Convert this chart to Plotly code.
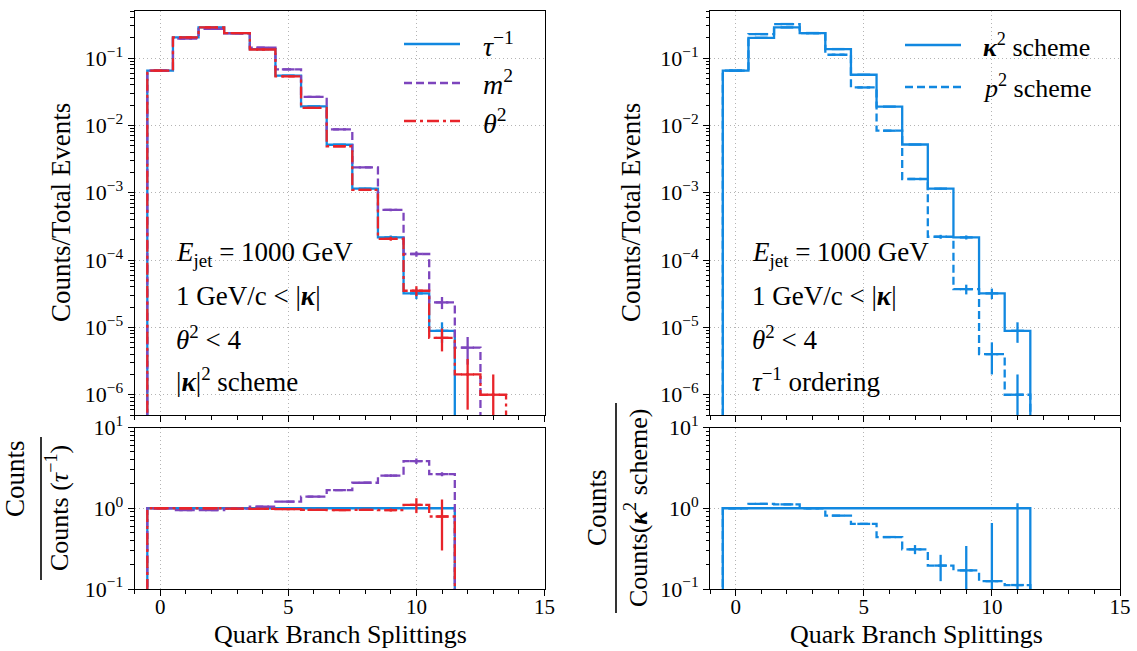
import plotly.graph_objects as go

W, H = 1137, 651

# ---------------- data ----------------
bins_tau = list(range(12))          # bin centres for tau^-1 ordering
bins_m2 = list(range(13))
bins_th2 = list(range(14))
tau_inv = [0.065, 0.203, 0.285, 0.235, 0.136, 0.055, 0.0191, 0.00516, 0.00115, 2.17e-4, 3.2e-5, 8.9e-6]
tau_err = [2.5e-4, 4.5e-4, 5.3e-4, 4.8e-4, 3.7e-4, 2.3e-4, 1.4e-4, 7.2e-5, 3.4e-5, 1.5e-5, 5.7e-6, 3.0e-6]
m2 = [0.065, 0.194, 0.271, 0.233, 0.143, 0.068, 0.0266, 0.0087, 0.00238, 5.55e-4, 1.23e-4, 2.35e-5, 5.0e-6]
m2_err = [2.5e-4, 4.4e-4, 5.2e-4, 4.8e-4, 3.8e-4, 2.6e-4, 1.6e-4, 9.3e-5, 4.9e-5, 2.4e-5, 1.1e-5, 4.8e-6, 2.2e-6]
theta2 = [0.065, 0.203, 0.285, 0.234, 0.134, 0.0535, 0.0182, 0.0049, 0.0011, 2.07e-4, 3.5e-5, 7.0e-6, 2.0e-6, 1.0e-6]
theta2_err = [2.5e-4, 4.5e-4, 5.3e-4, 4.8e-4, 3.7e-4, 2.3e-4, 1.3e-4, 7.0e-5, 3.3e-5, 1.4e-5, 5.9e-6, 2.6e-6, 1.4e-6, 1.0e-6]

ratio_bins_left = list(range(12))
ratio_tau = [1.0] * 12
ratio_m2 = [1.0, 0.95, 0.95, 0.99, 1.05, 1.21, 1.39, 1.68, 2.07, 2.53, 3.84, 2.64]
ratio_m2_err = [0.005, 0.005, 0.005, 0.005, 0.005, 0.01, 0.01, 0.02, 0.05, 0.1, 0.3, 0.15]
ratio_th2 = [1.0, 1.0, 1.0, 0.99, 0.985, 0.975, 0.955, 0.95, 0.955, 0.95, 1.1, 0.79]
ratio_th2_err = [0.005, 0.005, 0.005, 0.005, 0.005, 0.005, 0.01, 0.015, 0.02, 0.04, 0.23, 0.49]

bins_k = list(range(12))
kappa2 = [0.065, 0.200, 0.285, 0.235, 0.136, 0.0565, 0.019, 0.0052, 0.00115, 2.17e-4, 3.2e-5, 8.9e-6]
kappa2_err = [2.5e-4, 4.5e-4, 5.3e-4, 4.8e-4, 3.7e-4, 2.4e-4, 1.4e-4, 7.2e-5, 3.4e-5, 1.5e-5, 5.7e-6, 3.0e-6]
p2 = [0.065, 0.227, 0.320, 0.235, 0.112, 0.0366, 0.00834, 0.0016, 2.22e-4, 3.7e-5, 4.0e-6, 1.0e-6]
p2_err = [2.5e-4, 4.8e-4, 5.7e-4, 4.8e-4, 3.3e-4, 1.9e-4, 9.1e-5, 4.0e-5, 1.5e-5, 6.1e-6, 2.0e-6, 1.0e-6]
ratio_k = [1.0] * 12
ratio_p2 = [1.0, 1.13, 1.12, 1.0, 0.81, 0.64, 0.44, 0.31, 0.195, 0.17, 0.125, 0.112]
ratio_p2_err = [0.005, 0.005, 0.005, 0.005, 0.005, 0.01, 0.01, 0.04, 0.07, 0.17, 0.53, 1.04]

ytick_top_vals = [1e-6, 1e-5, 1e-4, 1e-3, 1e-2, 1e-1]
ytick_top_text = ["10<sup>−6</sup>", "10<sup>−5</sup>", "10<sup>−4</sup>", "10<sup>−3</sup>", "10<sup>−2</sup>", "10<sup>−1</sup>"]
ytick_bot_vals = [0.1, 1, 10]
ytick_bot_text = ["10<sup>−1</sup>", "10<sup>0</sup>", "10<sup>1</sup>"]
xtick_vals = [0, 5, 10, 15]

# ---------------- styles ----------------
BLUE = "#1188e0"
PURPLE = "#7d45bd"
RED = "#e8242a"
LW = 2.3
DASH = "8px,4px"
DASHDOT = "12px,4px,3px,4px"
FONT = "Liberation Serif"
FLOOR = 1e-9
GRID = dict(showgrid=True, gridcolor="#b4b4b4", griddash="1px,3px", gridwidth=1)

fig = go.Figure()


def step(centers, vals, color, dash, xa, ya):
    edges = [c - 0.5 for c in centers] + [centers[-1] + 0.5]
    xs = [edges[0]] + edges[:-1] + [edges[-1], edges[-1]]
    ys = [FLOOR] + list(vals) + [vals[-1], FLOOR]
    fig.add_trace(go.Scatter(x=xs, y=ys, mode="lines", line_shape="hv",
                             line=dict(color=color, width=LW, dash=dash),
                             xaxis=xa, yaxis=ya, showlegend=False, hoverinfo="skip"))


def errs(centers, vals, err, color, xa, ya):
    minus = [min(e, 0.999 * v) for e, v in zip(err, vals)]
    fig.add_trace(go.Scatter(x=centers, y=vals, mode="markers",
                             marker=dict(size=1, color="rgba(0,0,0,0)"),
                             error_y=dict(type="data", array=err, arrayminus=minus, symmetric=False,
                                          color=color, thickness=LW, width=0),
                             error_x=dict(type="constant", value=0.25, color=color, thickness=LW, width=0),
                             xaxis=xa, yaxis=ya, showlegend=False, hoverinfo="skip"))


# left top
for c, v, e, col, d in [(bins_tau, tau_inv, tau_err, BLUE, "solid"),
                        (bins_m2, m2, m2_err, PURPLE, DASH),
                        (bins_th2, theta2, theta2_err, RED, DASHDOT)]:
    step(c, v, col, d, "x", "y")
    errs(c, v, e, col, "x", "y")
# left bottom
step(ratio_bins_left, ratio_tau, BLUE, "solid", "x2", "y2")
step(ratio_bins_left, ratio_m2, PURPLE, DASH, "x2", "y2")
errs(ratio_bins_left, ratio_m2, ratio_m2_err, PURPLE, "x2", "y2")
step(ratio_bins_left, ratio_th2, RED, DASHDOT, "x2", "y2")
errs(ratio_bins_left, ratio_th2, ratio_th2_err, RED, "x2", "y2")
# right top
step(bins_k, kappa2, BLUE, "solid", "x3", "y3")
errs(bins_k, kappa2, kappa2_err, BLUE, "x3", "y3")
step(bins_k, p2, BLUE, DASH, "x3", "y3")
errs(bins_k, p2, p2_err, BLUE, "x3", "y3")
# right bottom
step(bins_k, ratio_k, BLUE, "solid", "x4", "y4")
step(bins_k, ratio_p2, BLUE, DASH, "x4", "y4")
errs(bins_k, ratio_p2, ratio_p2_err, BLUE, "x4", "y4")


def px(x):
    return x / W


def py(y):
    return 1 - y / H


LEFT = [px(134.5), px(544.5)]
RIGHT = [px(710), px(1120)]
TOP = [py(415), py(11)]
BOT = [py(589), py(427.5)]

tickfont = dict(family=FONT, size=22, color="black")
xcommon = dict(range=[-1, 15], tickmode="array", tickvals=xtick_vals, ticks="outside", ticklen=6,
               tickcolor="black", showline=True, linecolor="black", linewidth=1, mirror=True,
               zeroline=False, **GRID, ticklabelstandoff=-7,
               minor=dict(tickvals=list(range(-1, 16)), ticks="outside", ticklen=3.5, tickcolor="black",
                          showgrid=False),
               tickfont=dict(tickfont, size=21), automargin=False)
minor_top = [k * 10.0 ** e for e in range(-7, 0) for k in range(2, 10)]
minor_bot = [k * 10.0 ** e for e in range(-1, 1) for k in range(2, 10)]
ytop = dict(type="log", range=[-6.30103, -0.30103], tickmode="array", tickvals=ytick_top_vals,
            ticktext=ytick_top_text, ticks="outside", ticklen=6, tickcolor="black",
            showline=True, linecolor="black", linewidth=1, mirror=True,
            zeroline=False, **GRID,
            minor=dict(tickvals=minor_top, ticks="outside", ticklen=3.5, tickcolor="black", showgrid=False),
            tickfont=tickfont, automargin=False)
ybot = dict(ytop, range=[-1, 1], tickvals=ytick_bot_vals, ticktext=ytick_bot_text,
            minor=dict(tickvals=minor_bot, ticks="outside", ticklen=3.5, tickcolor="black", showgrid=False))

fig.update_layout(
    width=W, height=H, margin=dict(l=0, r=0, t=0, b=0),
    paper_bgcolor="white", plot_bgcolor="white", showlegend=False,
    xaxis=dict(xcommon, domain=LEFT, anchor="y", showticklabels=False),
    yaxis=dict(ytop, domain=TOP, anchor="x"),
    xaxis2=dict(xcommon, domain=LEFT, anchor="y2"),
    yaxis2=dict(ybot, domain=BOT, anchor="x2"),
    xaxis3=dict(xcommon, domain=RIGHT, anchor="y3", showticklabels=False),
    yaxis3=dict(ytop, domain=TOP, anchor="x3"),
    xaxis4=dict(xcommon, domain=RIGHT, anchor="y4"),
    yaxis4=dict(ybot, domain=BOT, anchor="x4"),
)

ann = []


def text(x, y, s, size=25, angle=0, xanchor="center", yanchor="middle"):
    ann.append(dict(x=px(x), y=py(y), xref="paper", yref="paper", text=s, showarrow=False,
                    textangle=angle, xanchor=xanchor, yanchor=yanchor,
                    font=dict(family=FONT, size=size, color="black")))


# axis titles
text(340, 651, "Quark Branch Splittings", 26, yanchor="bottom")
text(916, 651, "Quark Branch Splittings", 26, yanchor="bottom")
text(61, 213, "Counts/Total Events", 27, -90)
text(631, 213, "Counts/Total Events", 27, -90)
text(15, 479, "Counts", 27, -90)
text(57, 508, "Counts (<i>τ</i><sup>−1</sup>)", 26, -90)
text(597, 508, "Counts", 27, -90)
text(636, 508, "Counts(<b><i>κ</i></b><sup>2</sup> scheme)", 26, -90)

# in-panel labels
info_left = ["<i>E</i><sub>jet</sub> = 1000 GeV", "1 GeV/c &lt; |<b><i>κ</i></b>|",
             "<i>θ</i><sup>2</sup> &lt; 4", "|<b><i>κ</i></b>|<sup>2</sup> scheme"]
info_right = ["<i>E</i><sub>jet</sub> = 1000 GeV", "1 GeV/c &lt; |<b><i>κ</i></b>|",
              "<i>θ</i><sup>2</sup> &lt; 4", "<i>τ</i><sup>−1</sup> ordering"]
for i, (a, b) in enumerate(zip(info_left, info_right)):
    yy = [254, 296, 338, 380][i]
    text(174, yy, a, 27, xanchor="left")
    text(750, yy, b, 27, xanchor="left")

# legends (manual)
shapes = []
leg_left = [("<i>τ</i><sup>−1</sup>", BLUE, "solid", 44), ("<i>m</i><sup>2</sup>", PURPLE, DASH, 83),
            ("<i>θ</i><sup>2</sup>", RED, DASHDOT, 121)]
for lab, col, d, yy in leg_left:
    shapes.append(dict(type="line", xref="paper", yref="paper", x0=px(404), x1=px(460), y0=py(yy), y1=py(yy),
                       line=dict(color=col, width=LW, dash=d)))
    text(481, yy, lab, 28, xanchor="left")
leg_right = [("<b><i>κ</i></b><sup>2</sup> scheme", BLUE, "solid", 45), ("<i>p</i><sup>2</sup> scheme", BLUE, DASH, 87)]
for lab, col, d, yy in leg_right:
    shapes.append(dict(type="line", xref="paper", yref="paper", x0=px(905), x1=px(961), y0=py(yy), y1=py(yy),
                       line=dict(color=col, width=LW, dash=d)))
    text(981, yy, lab, 26, xanchor="left")

# fraction bars of ratio labels
shapes.append(dict(type="line", xref="paper", yref="paper", x0=px(41), x1=px(41), y0=py(437), y1=py(580),
                   line=dict(color="black", width=1.6)))
shapes.append(dict(type="line", xref="paper", yref="paper", x0=px(616), x1=px(616), y0=py(403), y1=py(613),
                   line=dict(color="black", width=1.6)))

fig.update_layout(annotations=ann, shapes=shapes)
fig.write_html("out.html")
